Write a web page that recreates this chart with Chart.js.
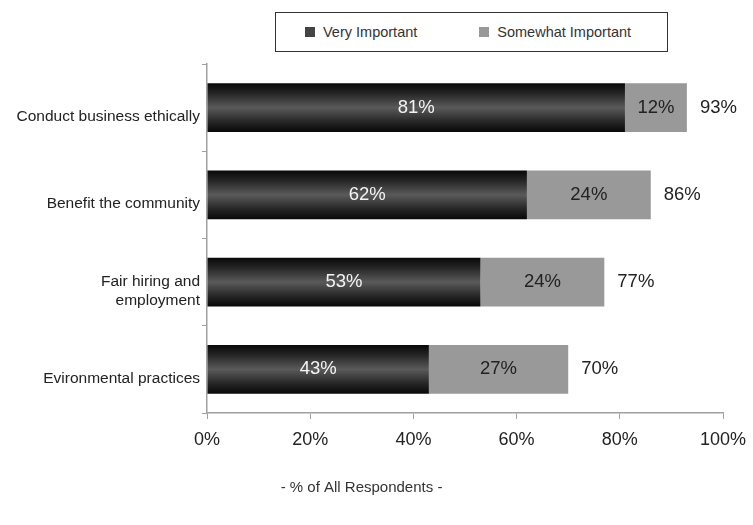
<!DOCTYPE html>
<html lang="en">
<head>
<meta charset="UTF-8">
<title>Importance</title>
<style>
    *{ margin:0; padding:0; }
    body{ background:#fff; font-family:"Liberation Sans", Arial, sans-serif; }
    .wrap{ position:relative; width:753px; height:525px; }
    .legend{
        position:absolute; left:275px; top:12px; width:391px; height:38px;
        border:1.5px solid #333; background:#fff;
        display:flex; align-items:center; font-size:14.5px; color:#333;
    }
    .legend span.box{ display:inline-block; width:10px; height:10px; margin-right:8px; }
    .legend .item{ display:flex; align-items:center; }
</style>
</head>
<body>
<div class="wrap">
    <canvas id="chart"></canvas>
    <div class="legend" id="legend"></div>
</div>
<script src="https://cdn.jsdelivr.net/npm/chart.js@4.4.0/dist/chart.umd.min.js"></script>
<script>
const categories = [
    'Conduct business ethically',
    'Benefit the community',
    ['Fair hiring and', 'employment'],
    'Evironmental practices'
];
const veryImportant = [81, 62, 53, 43];
const somewhatImportant = [12, 24, 24, 27];
const totals = [93, 86, 77, 70];
const xTicks = [0, 20, 40, 60, 80, 100];

const lightColor = '#999999';
const barPct = 0.56;
const fontFamily = '"Liberation Sans", Arial, sans-serif';

function darkFill(ctx) {
    const chart = ctx.chart;
    const y = chart.scales.y;
    if (!y || ctx.dataIndex === undefined) return '#444';
    const c = y.getPixelForValue(ctx.dataIndex);
    const h = (y.height / categories.length) * barPct;
    if (!isFinite(c) || !isFinite(h) || h <= 0) return '#444';
    const g = chart.ctx.createLinearGradient(0, c - h / 2, 0, c + h / 2);
    g.addColorStop(0, '#080808');
    g.addColorStop(0.2, '#242424');
    g.addColorStop(0.5, '#5a5a5a');
    g.addColorStop(0.8, '#242424');
    g.addColorStop(1, '#080808');
    return g;
}

const labelPlugin = {
    id: 'labels',
    afterDatasetsDraw(chart) {
        const c = chart.ctx;
        c.save();
        c.font = '18.5px ' + fontFamily;
        c.textBaseline = 'middle';
        chart.data.datasets.forEach((ds, di) => {
            const meta = chart.getDatasetMeta(di);
            meta.data.forEach((bar, i) => {
                c.textAlign = 'center';
                c.fillStyle = di === 0 ? '#f4f4f4' : '#222';
                c.fillText(ds.data[i] + '%', (bar.x + bar.base) / 2, bar.y);
                if (di === 1) {
                    c.textAlign = 'left';
                    c.fillStyle = '#222';
                    c.fillText(totals[i] + '%', bar.x + 13, bar.y);
                }
            });
        });
        c.restore();
    }
};

const chart = new Chart(document.getElementById('chart'), {
    type: 'bar',
    data: {
        labels: categories,
        datasets: [{
            label: 'Very Important',
            data: veryImportant,
            backgroundColor: darkFill,
            categoryPercentage: 1,
            barPercentage: barPct
        }, {
            label: 'Somewhat Important',
            data: somewhatImportant,
            backgroundColor: lightColor,
            categoryPercentage: 1,
            barPercentage: barPct
        }]
    },
    options: {
        indexAxis: 'y',
        responsive: true,
        maintainAspectRatio: false,
        animation: false,
        layout: { padding: { top: 64, right: 30, bottom: 20, left: 0 } },
        plugins: {
            legend: { display: false },
            tooltip: { enabled: false },
            title: {
                display: true,
                position: 'bottom',
                text: '- % of All Respondents -',
                color: '#333',
                font: { size: 15, weight: 'normal', family: fontFamily },
                padding: { top: 0, bottom: 8 }
            }
        },
        scales: {
            x: {
                stacked: true,
                min: 0,
                max: 100,
                afterBuildTicks(scale) {
                    scale.ticks = xTicks.map(v => ({ value: v }));
                },
                afterFit(scale) {
                    scale.height = 66;
                    scale.paddingLeft = 0;
                    scale.paddingRight = 0;
                },
                border: { color: '#a0a0a0', width: 1.5 },
                grid: { drawOnChartArea: false, drawTicks: true, tickLength: 6, color: '#a0a0a0' },
                ticks: {
                    padding: 10,
                    color: '#222',
                    font: { size: 18, family: fontFamily },
                    callback: v => v + '%'
                }
            },
            y: {
                stacked: true,
                afterFit(scale) { scale.width = 207; },
                border: { color: '#a0a0a0', width: 1.5 },
                grid: { drawOnChartArea: false, drawTicks: true, tickLength: 5, color: '#a0a0a0' },
                ticks: {
                    padding: 2,
                    labelOffset: 9,
                    color: '#222',
                    font: { size: 15.5, family: fontFamily }
                }
            }
        }
    },
    plugins: [labelPlugin]
});

// boxed legend built from the datasets
const legendEl = document.getElementById('legend');
const swatches = ['#444', lightColor];
const offsets = [29, 62];
chart.data.datasets.forEach((ds, i) => {
    const item = document.createElement('div');
    item.className = 'item';
    item.style.marginLeft = offsets[i] + 'px';
    item.innerHTML = '<span class="box" style="background:' + swatches[i] + '"></span>' + ds.label;
    legendEl.appendChild(item);
});
</script>
</body>
</html>
